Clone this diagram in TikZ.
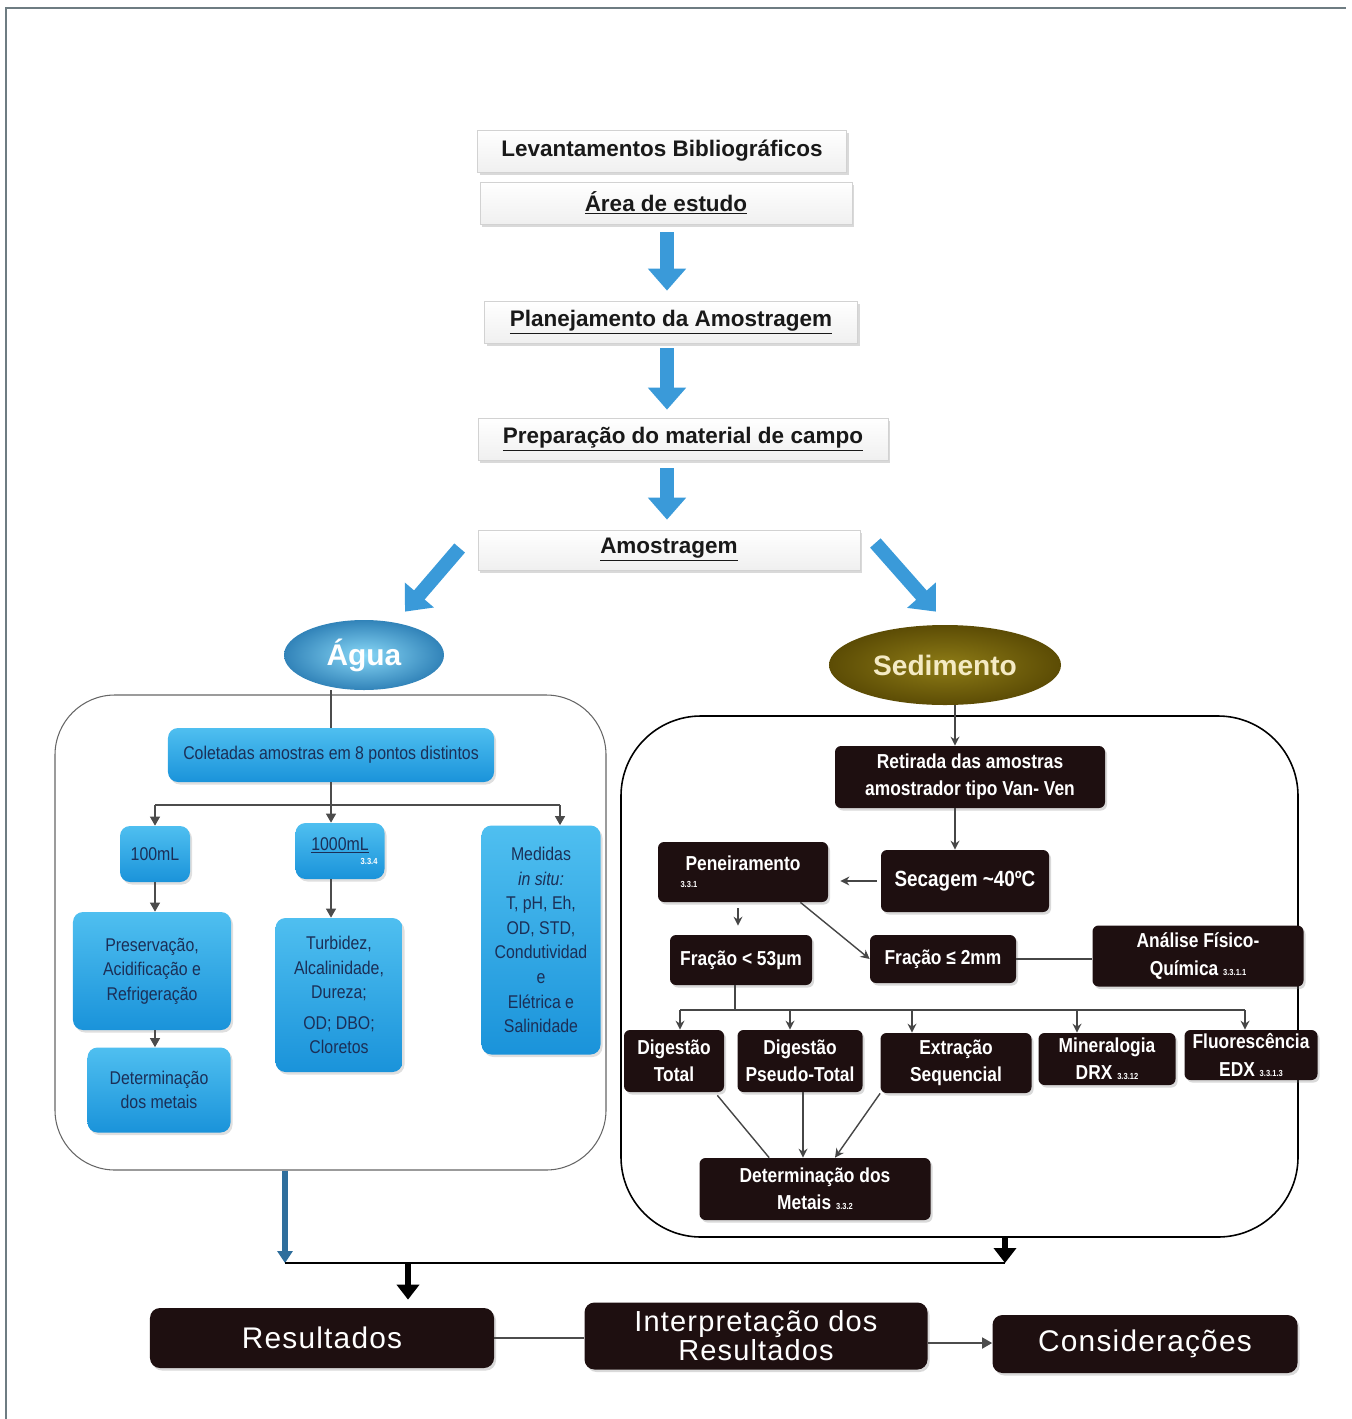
\documentclass[tikz,border=0pt]{standalone}
\usepackage{fontspec}
\setmainfont{Liberation Sans}
\newfontfamily\narrowfont[FakeStretch=0.86]{Liberation Sans}
\newfontfamily\widefont[LetterSpace=4]{Liberation Sans}
\usetikzlibrary{arrows.meta,positioning,calc,shapes.geometric,shadows}
\definecolor{arrblue}{HTML}{3A9AD9}
\definecolor{blueTop}{HTML}{4FBFF0}
\definecolor{blueMid}{HTML}{6ACDF4}
\definecolor{blueBot}{HTML}{1A93DA}
\definecolor{navytext}{HTML}{1B2F57}
\definecolor{nearblack}{HTML}{1E0F10}
\definecolor{oliveIn}{HTML}{8E7C16}
\definecolor{oliveOut}{HTML}{5C4C05}
\definecolor{cream}{HTML}{F4EAC4}
\definecolor{shaftblue}{HTML}{2F6E9C}
\definecolor{framegray}{HTML}{6E7C82}
\newcommand{\refno}[1]{{\fontsize{5}{6}\selectfont\bfseries #1}}

\begin{document}
\begin{tikzpicture}[x=0.2mm, y=-0.2mm,
  topbox/.style={rectangle, top color=white, bottom color=gray!12, draw=gray!35,
    minimum height=8.4mm, text=black!90, font=\bfseries\fontsize{12.8}{14}\selectfont,
    drop shadow={opacity=0.3, shadow xshift=0.4mm, shadow yshift=-0.5mm}},
  bluebox/.style={rectangle, rounded corners=2mm, top color=blueTop, middle color=blueMid,
    bottom color=blueBot, text=navytext, align=center, inner sep=1pt,
    font=\narrowfont\fontsize{10.5}{14}\selectfont,
    drop shadow={opacity=0.25, shadow xshift=0.4mm, shadow yshift=-0.5mm}},
  blackbox/.style={rectangle, rounded corners=1.2mm, fill=nearblack, text=white, align=center,
    inner sep=1pt, font=\narrowfont\bfseries\fontsize{11.5}{15.5}\selectfont,
    drop shadow={opacity=0.3, shadow xshift=0.4mm, shadow yshift=-0.5mm}},
  bottombox/.style={blackbox, rounded corners=2mm, font=\widefont\fontsize{17}{17}\selectfont},
  frame/.style={rectangle, draw, line width=0.6pt},
  agua/.style={ellipse, inner color=blueMid!80!white, outer color=arrblue!85!black, text=white,
    minimum width=32mm, minimum height=14mm, font=\bfseries\fontsize{17}{18}\selectfont},
  sedim/.style={ellipse, inner color=oliveIn, outer color=oliveOut, text=cream,
    minimum width=46.4mm, minimum height=16mm, font=\bfseries\fontsize{16}{18}\selectfont},
  bigarr/.style={draw=arrblue, line width=2.8mm, -{Triangle[length=4.4mm,width=7.4mm]}},
  wline/.style={draw=black!70, line width=0.7pt},
  warr/.style={wline, -{Triangle[length=1.8mm,width=2mm]}},
  sline/.style={draw=gray!55!black, line width=0.8pt},
  sarr/.style={sline, -{Stealth[length=1.8mm,width=1.8mm]}},
  blkarr/.style={draw=black, line width=1.3mm, -{Triangle[length=3mm,width=4.4mm]}}
]
\useasboundingbox (0,0) rectangle (1351,1419);
\draw[framegray, line width=1.4pt] (6,1419) -- (6,8) -- (1346,8);

% Top sequence
\node[topbox, minimum width=73.8mm] (lev) at (662,151) {Levantamentos Bibliográficos};
\node[topbox, minimum width=74.4mm] (area) at (666,203) {\underline{Área de estudo}};
\node[topbox, minimum width=74.6mm] (plan) at (671,322) {\underline{Planejamento da Amostragem}};
\node[topbox, minimum width=82mm] (prep) at (683,439) {\underline{Preparação do material de campo}};
\node[topbox, minimum width=76.4mm, minimum height=8mm] (amos) at (669,550) {\underline{Amostragem}};

\draw[bigarr] ($(area.south)+(1,8)$) -- ($(area.south |- plan.north)+(1,-10)$);
\draw[bigarr] ($(plan.south)+(-4,5)$) -- ($(plan.south |- prep.north)+(-4,-8)$);
\draw[bigarr] ($(prep.south)+(-16,8)$) -- ($(prep.south |- amos.north)+(-16,-10)$);

\node[agua] (agua) at (364,655) {Água};
\node[sedim] (sed) at (945,665) {Sedimento};

\draw[bigarr] ($(amos.west)+(-18,-2)$) -- ($(agua.north)+(41,-8)$);
\draw[bigarr] ($(amos.east)+(15,-7)$) -- ($(sed.north)+(-9,-13)$);

% Water
\node[frame, draw=black!60, rounded corners=12mm, minimum width=110.2mm, minimum height=95mm] (lbox) at (330.5,932.5) {};
\node[bluebox, minimum width=65.2mm, minimum height=10.8mm] (col) at (331,755) {Coletadas amostras em 8 pontos distintos};
\node[bluebox, minimum width=14mm, minimum height=11.2mm] (ml100) at (155,854) {100mL};
\node[bluebox, minimum width=17.8mm, minimum height=11.2mm] (ml1000) at (340,851)
  {\underline{1000mL}\\[-2mm]\makebox[15mm][r]{\textcolor{white}{\refno{3.3.4}}}};
\node[bluebox, minimum width=23.8mm, minimum height=45.8mm] (med) at (541,940)
  {Medidas\\\textit{in situ:}\\T, pH, Eh,\\OD, STD,\\Condutividad\\e\\Elétrica e\\Salinidade};
\node[bluebox, minimum width=31.6mm, minimum height=23.6mm] (pres) at (152,971) {Preservação,\\Acidificação e\\Refrigeração};
\node[bluebox, minimum width=28.6mm, minimum height=17mm] (detw) at (159,1090) {Determinação\\dos metais};
\node[bluebox, minimum width=25.4mm, minimum height=30.8mm] (turb) at (339,995)
  {Turbidez,\\Alcalinidade,\\Dureza;\\[1.2mm]OD; DBO;\\Cloretos};

\coordinate (wl) at (155,805);
\coordinate (wr) at (560,805);
\draw[wline] (col.north |- agua.south) -- (col.north);
\draw[wline] (col.south) -- (col.south |- wl);
\draw[wline] (wl) -- (wr);
\draw[warr] (wl) -- (wl |- ml100.north);
\draw[warr] (col.south |- wl) -- (col.south |- ml1000.north);
\draw[warr] (wr) -- (wr |- med.north);
\draw[warr] (ml100.south) -- (ml100.south |- pres.north);
\draw[warr] (pres.south -| ml100.south) -- (ml100.south |- detw.north);
\draw[warr] (col.south |- ml1000.south) -- (col.south |- turb.north);

% Sediment
\node[frame, draw=black, line width=0.9pt, rounded corners=16mm, minimum width=135.4mm, minimum height=104.2mm] (rbox) at (959.5,976.5) {};
\node[blackbox, minimum width=54mm, minimum height=12.4mm] (ret) at (970,777) {Retirada das amostras\\amostrador tipo Van- Ven};
\node[blackbox, minimum width=33.6mm, minimum height=12.4mm, font=\narrowfont\bfseries\fontsize{12.5}{15}\selectfont] (sec) at (965,881) {Secagem \textasciitilde40ºC};
\node[blackbox, minimum width=34mm, minimum height=12mm] (pen) at (743,872) {Peneiramento\\[-2mm]\makebox[25mm][l]{\refno{3.3.1}}};
\node[blackbox, minimum width=28.4mm, minimum height=10mm] (fr53) at (741,960) {Fração < 53µm};
\node[blackbox, minimum width=29.2mm, minimum height=9.6mm] (fr2) at (943,959) {Fração ≤ 2mm};
\node[blackbox, minimum width=42.2mm, minimum height=12.2mm] (ana) at (1198,956) {Análise Físico-\\Química \refno{3.3.1.1}};
\node[blackbox, minimum width=20mm, minimum height=12.4mm] (digt) at (674,1061) {Digestão\\Total};
\node[blackbox, minimum width=25mm, minimum height=12.4mm] (digp) at (800,1061) {Digestão\\Pseudo-Total};
\node[blackbox, minimum width=30.2mm, minimum height=12mm] (ext) at (956,1063) {Extração\\Sequencial};
\node[blackbox, minimum width=27.4mm, minimum height=10.4mm] (mine) at (1107,1059) {Mineralogia\\DRX \refno{3.3.12}};
\node[blackbox, minimum width=26.6mm, minimum height=10mm] (flu) at (1251,1055) {Fluorescência\\EDX \refno{3.3.1.3}};
\node[blackbox, minimum width=46.2mm, minimum height=12.4mm] (detm) at (815,1189) {Determinação dos\\Metais \refno{3.3.2}};

\draw[sarr] ($(sed.south)+(10,0)$) -- ($(sed.south |- ret.north)+(10,0)$);
\draw[sarr] ($(ret.south)+(-15,0)$) -- ($(ret.south |- sec.north)+(-15,0)$);
\draw[sarr] ($(sec.west)+(-4,0)$) -- ($(sec.west -| pen.east)+(12,0)$);
\draw[sarr] ($(pen.south)+(-5,6)$) -- ($(pen.south |- fr53.north)+(-5,-9)$);
\draw[sarr] ($(pen.south east)+(-28,0)$) -- (fr2.west);
\draw[sline] (fr2.east) -- (fr2.east -| ana.west);

\coordinate (sl) at (680,1010);
\coordinate (sr) at (1245,1010);
\draw[sline] ($(fr53.south)+(-6,0)$) -- ($(fr53.south |- sl)+(-6,0)$);
\draw[sline] (sl) -- (sr);
\foreach \b/\dx in {digt/6, digp/-10, ext/-44, mine/-30, flu/-6}
  \draw[sarr] ($(\b.north |- sl)+(\dx,0)$) -- ($(\b.north)+(\dx,0)$);

\draw[sline] ($(digt.south east)+(-7,3)$) -- ($(detm.north west)+(70,0)$);
\draw[sarr] ($(digp.south)+(3,0)$) -- ($(digp.south |- detm.north)+(3,0)$);
\draw[sarr] (ext.south west) -- ($(detm.north)+(20,0)$);

% Results
\node[bottombox, minimum width=68.8mm, minimum height=12mm] (res) at (322,1338) {Resultados};
\node[bottombox, minimum width=68.6mm, minimum height=13.4mm, font=\widefont\fontsize{16.5}{16.5}\selectfont] (int) at (756,1336) {Interpretação dos\\Resultados};
\node[bottombox, minimum width=61mm, minimum height=11.6mm] (cons) at (1145,1344) {Considerações};

\coordinate (jl) at (285,1263);
\coordinate (jm) at (408,1263);
\coordinate (jr) at (1005,1263);
\draw[draw=shaftblue, line width=1.3mm, -{Triangle[length=2.4mm,width=3mm]}] (jl |- lbox.south) -- (jl);
\draw[black, line width=1.1pt] (jl) -- (jr);
\draw[blkarr] (jr |- rbox.south) -- (jr);
\draw[blkarr] (jm) -- ($(jm |- res.north)+(0,-8)$);

\draw[wline, line width=1pt] (res.east) -- (res.east -| int.west);
\draw[wline, line width=1pt, -{Triangle[length=2mm,width=2.2mm]}] ($(int.east)+(0,7)$) -- ($(int.east -| cons.west)+(0,7)$);
\end{tikzpicture}
\end{document}
